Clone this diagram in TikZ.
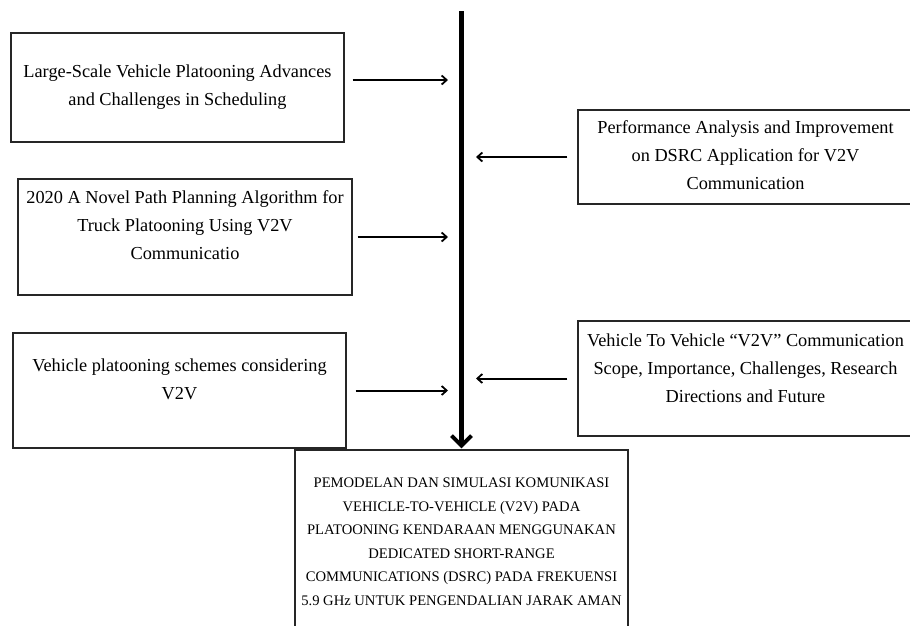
\documentclass[tikz,border=0pt]{standalone}
\usepackage{fontspec}
\setmainfont{Liberation Serif}
\usetikzlibrary{arrows.meta}
\begin{document}
\begin{tikzpicture}[x=1pt,y=-1pt,
  box/.style={draw=black!85, line width=1.4pt, rectangle, align=center, inner sep=0pt,
    font=\fontsize{18.3}{28}\selectfont},
  resbox/.style={draw=black!85, line width=1.4pt, rectangle, align=center, inner sep=0pt,
    font=\fontsize{14.6}{23.5}\selectfont},
  harrow/.style={line width=2pt, -{Straight Barb[length=5pt,width=9pt,line width=1.8pt]}},
  varrow/.style={line width=4.5pt, -{Straight Barb[length=10pt,width=20pt,line width=3.8pt]}}
]
\useasboundingbox (0,0) rectangle (910,625);
\begin{scope}
\clip (0,0) rectangle (910,625);
\node[box, minimum width=333pt, minimum height=109pt] (b1) at (177.5,87.5)
  {Large-Scale Vehicle Platooning Advances\\and Challenges in Scheduling\rule[-3pt]{0pt}{0pt}};
\node[box, minimum width=335pt, minimum height=94pt] (b2) at (745.5,157)
  {Performance Analysis and Improvement\\on DSRC Application for V2V\\Communication\rule[-4pt]{0pt}{0pt}};
\node[box, minimum width=334pt, minimum height=116pt] (b3) at (185,237)
  {2020 A Novel Path Planning Algorithm for\\Truck Platooning Using V2V\\Communicatio\rule[-23pt]{0pt}{0pt}};
\node[box, minimum width=333pt, minimum height=115pt] (b4) at (179.5,390.5)
  {Vehicle platooning schemes considering\\V2V\rule[-22pt]{0pt}{0pt}};
\node[box, minimum width=335pt, minimum height=115pt] (b5) at (745.5,378.5)
  {Vehicle To Vehicle “V2V” Communication\\Scope, Importance, Challenges, Research\\Directions and Future\rule[-21pt]{0pt}{0pt}};
\node[resbox, minimum width=333pt, minimum height=200pt] (res) at (461.5,550)
  {PEMODELAN DAN SIMULASI KOMUNIKASI\\VEHICLE-TO-VEHICLE (V2V) PADA\\PLATOONING KENDARAAN MENGGUNAKAN\\DEDICATED SHORT-RANGE\\COMMUNICATIONS (DSRC) PADA FREKUENSI\\5.9 GHz UNTUK PENGENDALIAN JARAK AMAN\rule[-17pt]{0pt}{0pt}};
\end{scope}
\coordinate (top) at (461.5,11);
\coordinate (tipL) at (448,0);
\coordinate (tipR) at (476,0);
\draw[varrow] (top) -- ([yshift=1pt]res.north);
\draw[harrow, shorten <=8pt] ([yshift=7.5pt]b1.east) -- ([yshift=7.5pt]b1.east -| tipL);
\draw[harrow, shorten <=10pt] (b2.west) -- (b2.west -| tipR);
\draw[harrow, shorten <=5pt] (b3.east) -- (b3.east -| tipL);
\draw[harrow, shorten <=9pt] (b4.east) -- (b4.east -| tipL);
\draw[harrow, shorten <=10pt] (b5.west) -- (b5.west -| tipR);
\end{tikzpicture}
\end{document}
